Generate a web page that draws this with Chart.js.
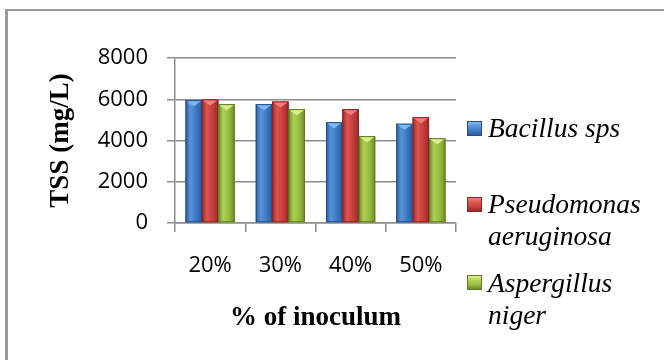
<!DOCTYPE html>
<html>
<head>
<meta charset="utf-8">
<script src="https://cdn.jsdelivr.net/npm/chart.js@4/dist/chart.umd.min.js"></script>
<style>
  html, body { margin: 0; padding: 0; background: #fff; }
  #wrap { position: relative; width: 664px; height: 360px; overflow: hidden; background: #fff; }
  #frame { position: absolute; left: 5px; top: 9px; right: -10px; bottom: -10px;
           border-left: 3px solid #9a9a9a; border-top: 2px solid #9a9a9a; }
  canvas { position: absolute; left: 0; top: 0; }
  .lg { position: absolute; left: 488px; font-family: 'Liberation Serif', 'Times New Roman', serif;
        font-style: italic; font-size: 27.5px; color: #000; white-space: nowrap; }
  .mk { position: absolute; left: 467px; width: 15px; height: 15px; box-sizing: border-box; }
</style>
</head>
<body>
<div id="wrap">
  <div id="frame"></div>
  <canvas id="c" width="664" height="360"></canvas>
  <div id="legend"></div>
</div>
<script>
// TSS remaining for each organism at each inoculum dose
const categories = ['20%', '30%', '40%', '50%'];
const seriesNames = ['Bacillus sps', 'Pseudomonas aeruginosa', 'Aspergillus niger'];
const bacillus = [5950, 5760, 4890, 4810];
const pseudomonas = [5990, 5890, 5520, 5130];
const aspergillus = [5760, 5520, 4210, 4110];
const yTicks = [0, 2000, 4000, 6000, 8000];
const legendLines = [['Bacillus sps'], ['Pseudomonas', 'aeruginosa'], ['Aspergillus', 'niger']];

// bevelled bar colours: edge, light band, body, outline, top facet
const palette = [
  { edge: '#2b5c9c', light: '#5a93d8', base: '#3e78c2', line: '#24508a', tip: '#7db8f2' },
  { edge: '#9c2a28', light: '#dc5552', base: '#c63d3a', line: '#8a2422', tip: '#f47d7a' },
  { edge: '#6b8c28', light: '#aed055', base: '#97bb40', line: '#5e7c22', tip: '#daf08e' }
];

const bevel = {
  id: 'bevel',
  afterDatasetsDraw(chart) {
    const ctx = chart.ctx;
    chart.data.datasets.forEach((ds, di) => {
      const meta = chart.getDatasetMeta(di);
      const p = palette[di];
      meta.data.forEach(bar => {
        const { x, y, base, width } = bar.getProps(['x', 'y', 'base', 'width'], true);
        const l = x - width / 2, r = x + width / 2;
        const g = ctx.createLinearGradient(l, 0, r, 0);
        g.addColorStop(0, p.edge);
        g.addColorStop(0.3, p.light);
        g.addColorStop(0.65, p.base);
        g.addColorStop(1, p.edge);
        ctx.save();
        ctx.fillStyle = g;
        ctx.fillRect(l, y, width, base - y);
        ctx.strokeStyle = p.line;
        ctx.lineWidth = 1;
        ctx.strokeRect(l + 0.5, y + 0.5, width - 1, base - y - 1);
        ctx.fillStyle = p.tip;
        ctx.beginPath();
        ctx.moveTo(l + 1, y + 1);
        ctx.lineTo(r - 1, y + 1);
        ctx.lineTo(x, y + 6);
        ctx.closePath();
        ctx.fill();
        ctx.restore();
      });
    });
  }
};

const values = [bacillus, pseudomonas, aspergillus];
const gridColor = '#8c8c8c';

new Chart(document.getElementById('c'), {
  type: 'bar',
  data: {
    labels: categories,
    datasets: seriesNames.map((name, i) => ({
      label: name,
      data: values[i],
      backgroundColor: palette[i].base,
      borderWidth: 0,
      categoryPercentage: 0.7,
      barPercentage: 1.0
    }))
  },
  options: {
    responsive: false,
    animation: false,
    devicePixelRatio: 1,
    layout: { padding: { left: 0, top: 58, right: 208, bottom: 0 } },
    plugins: { legend: { display: false }, tooltip: { enabled: false } },
    scales: {
      x: {
        grid: { display: true, drawOnChartArea: false, drawTicks: true, tickLength: 9,
                color: gridColor, lineWidth: 1.5, offset: true },
        border: { display: true, color: gridColor, width: 1.5 },
        ticks: { color: '#000', font: { family: 'Open Sans', size: 22 }, padding: 21 },
        title: { display: true, text: '% of inoculum', color: '#000',
                 font: { family: 'Liberation Serif', size: 27, weight: 'bold' },
                 padding: { top: 0, bottom: 26 } },
        afterFit(s) { s.height = 137; }
      },
      y: {
        min: 0, max: 8000,
        afterBuildTicks(s) { s.ticks = yTicks.map(v => ({ value: v })); },
        grid: { color: gridColor, lineWidth: 1.5, tickLength: 8 },
        border: { display: true, color: gridColor, width: 1.5 },
        ticks: { color: '#000', font: { family: 'Open Sans', size: 22 }, padding: 19,
                 callback: v => String(v) },
        title: { display: true, text: 'TSS (mg/L)', color: '#000',
                 font: { family: 'Liberation Serif', size: 27, weight: 'bold' },
                 padding: { top: 45, bottom: 0 } },
        afterFit(s) { s.width = 175; }
      }
    }
  },
  plugins: [bevel]
});

// legend: bevelled swatch plus wrapped italic name
const legendBox = document.getElementById('legend');
const markerTops = [121, 197, 275];
const textTops = [112, 188, 267];
legendLines.forEach((lines, i) => {
  const p = palette[i];
  const mk = document.createElement('div');
  mk.className = 'mk';
  mk.style.top = markerTops[i] + 'px';
  mk.style.border = '1px solid ' + p.line;
  mk.style.background = 'linear-gradient(to bottom, ' + p.tip + ' 0%, ' + p.light + ' 35%, ' + p.base + ' 70%, ' + p.edge + ' 100%)';
  legendBox.appendChild(mk);
  const tx = document.createElement('div');
  tx.className = 'lg';
  tx.style.top = textTops[i] + 'px';
  tx.style.lineHeight = '31.5px';
  tx.innerHTML = lines.join('<br>');
  legendBox.appendChild(tx);
});
</script>
</body>
</html>
